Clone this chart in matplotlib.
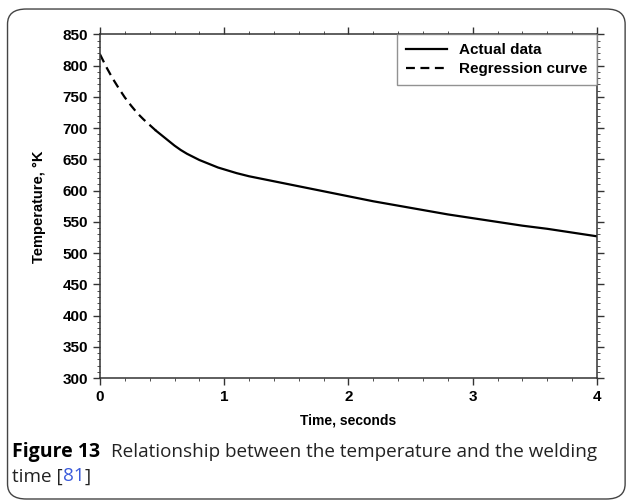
import matplotlib.pyplot as plt
from matplotlib.patches import FancyBboxPatch
from matplotlib.ticker import MultipleLocator

# regression curve (dashed, early part) and actual data (solid)
t_reg = [0.0, 0.05, 0.1, 0.15, 0.2, 0.25, 0.3, 0.35, 0.4, 0.45]
temp_reg = [818, 798, 780, 764, 749, 736, 724, 714, 705, 696]

t_act = [0.45, 0.5, 0.55, 0.6, 0.65, 0.7, 0.75, 0.8, 0.85, 0.9, 0.95, 1.0,
         1.1, 1.2, 1.3, 1.4, 1.5, 1.6, 1.7, 1.8, 1.9, 2.0, 2.2, 2.4, 2.6,
         2.8, 3.0, 3.2, 3.4, 3.6, 3.8, 4.0]
temp_act = [696, 688, 680, 672, 665, 659, 654, 649, 645, 641, 637, 634,
            628, 623, 619, 615, 611, 607, 603, 599, 595, 591, 583, 576, 569,
            562, 556, 550, 544, 539, 533, 527]

x_ticks = [0, 1, 2, 3, 4]
y_ticks = list(range(300, 851, 50))

plt.rcParams['font.family'] = ['Liberation Sans', 'DejaVu Sans']

fig = plt.figure(figsize=(6.27, 5.01), dpi=100)
ax = fig.add_axes([0.1595, 0.245, 0.7925, 0.6865])

ax.plot(t_act, temp_act, color='black', lw=1.6, label='Actual data')
ax.plot(t_reg, temp_reg, color='black', lw=1.6, ls=(0, (4, 2.5)),
        label='Regression curve')

ax.set_xlim(0, 4)
ax.set_ylim(300, 850)
ax.set_xticks(x_ticks)
ax.set_yticks(y_ticks)
ax.xaxis.set_minor_locator(MultipleLocator(0.2))
ax.yaxis.set_minor_locator(MultipleLocator(10))
ax.tick_params(which='both', direction='out', top=True, right=True,
               labeltop=False, labelright=False, color='#333333')
ax.tick_params(which='major', length=5, width=1, labelsize=11)
ax.tick_params(which='minor', length=2.5, width=0.6)
for lab in ax.get_xticklabels() + ax.get_yticklabels():
    lab.set_fontweight('bold')
for s in ax.spines.values():
    s.set_linewidth(1.1)
    s.set_color('#333333')

ax.set_xlabel('Time, seconds', fontsize=10, fontweight='bold', labelpad=7)
ax.set_ylabel('Temperature, °K', fontsize=10.5, fontweight='bold', labelpad=12)

leg = ax.legend(loc='upper right', fancybox=False, borderaxespad=0,
                handlelength=2.7, prop={'weight': 'bold', 'size': 11},
                borderpad=0.6, labelspacing=0.3, handletextpad=0.8)
leg.get_frame().set_edgecolor('#777777')
leg.get_frame().set_linewidth(1.0)

# rounded frame around the figure
box = FancyBboxPatch((0.012, 0.004), 0.985, 0.978,
                     boxstyle='round,pad=0,rounding_size=0.03',
                     transform=fig.transFigure, fill=False,
                     edgecolor='#444444', lw=1.0)
fig.patches.append(box)

# caption, pieces chained one after the other
cap_font = ['Open Sans', 'DejaVu Sans']
cap_col = '#222222'
t1 = fig.text(0.019, 0.097, 'Figure 13', family=cap_font, fontweight='bold',
              fontsize=14, va='center')
fig.add_artist(plt.Annotation(
    'Relationship between the temperature and the welding',
    xy=(1, 0.5), xycoords=t1, xytext=(8, 0), textcoords='offset points',
    va='center', family=cap_font, fontsize=13.6, color=cap_col))

t2 = fig.text(0.019, 0.049, 'time [', family=cap_font, fontsize=13.6,
              va='center', color=cap_col)
t3 = fig.add_artist(plt.Annotation(
    '81', xy=(1, 0.5), xycoords=t2, xytext=(0, 0), textcoords='offset points',
    va='center', family=cap_font, fontsize=13.6, color='#3b5bdb'))
fig.add_artist(plt.Annotation(
    ']', xy=(1, 0.5), xycoords=t3, xytext=(0, 0), textcoords='offset points',
    va='center', family=cap_font, fontsize=13.6, color=cap_col))

fig.savefig('out.png', dpi=100)
